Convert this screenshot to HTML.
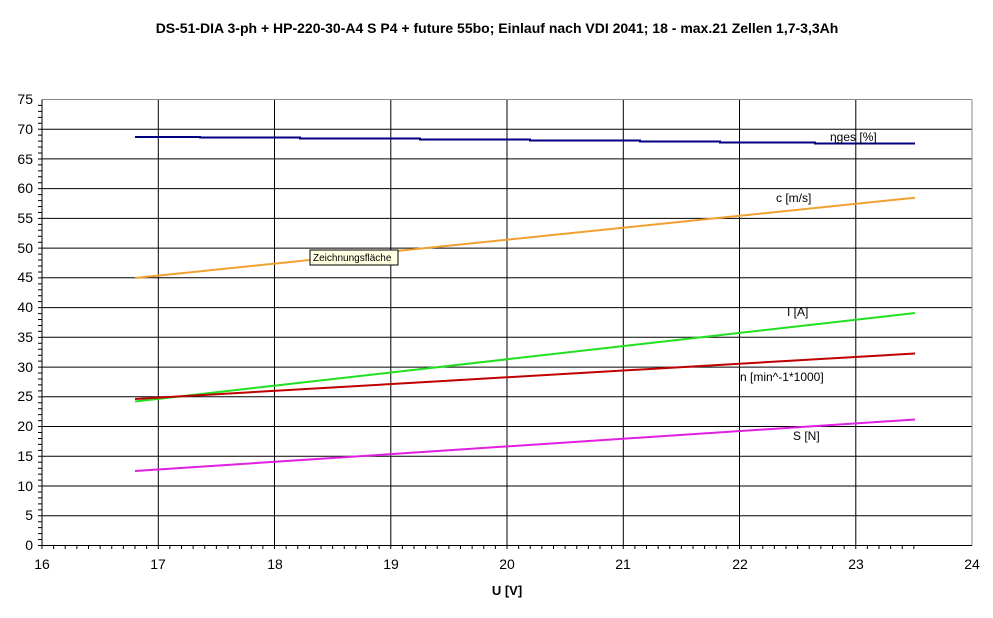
<!DOCTYPE html>
<html><head><meta charset="utf-8"><style>
body{margin:0;background:#fff;}
svg text{font-family:"Liberation Sans",Arial,sans-serif;}
</style></head><body>
<svg width="993" height="613" xmlns="http://www.w3.org/2000/svg">
<rect width="993" height="613" fill="#fff"/>
<text x="497" y="33" font-size="14" font-weight="bold" text-anchor="middle">DS-51-DIA 3-ph + HP-220-30-A4 S P4 + future 55bo; Einlauf nach VDI 2041; 18 - max.21 Zellen 1,7-3,3Ah</text>
<g stroke="#000" stroke-width="1">
<line x1="42" x2="972" y1="129.2" y2="129.2"/><line x1="42" x2="972" y1="158.9" y2="158.9"/>
<line x1="42" x2="972" y1="188.6" y2="188.6"/><line x1="42" x2="972" y1="218.4" y2="218.4"/>
<line x1="42" x2="972" y1="248.1" y2="248.1"/><line x1="42" x2="972" y1="277.8" y2="277.8"/>
<line x1="42" x2="972" y1="307.6" y2="307.6"/><line x1="42" x2="972" y1="337.3" y2="337.3"/>
<line x1="42" x2="972" y1="367.1" y2="367.1"/><line x1="42" x2="972" y1="396.8" y2="396.8"/>
<line x1="42" x2="972" y1="426.5" y2="426.5"/><line x1="42" x2="972" y1="456.3" y2="456.3"/>
<line x1="42" x2="972" y1="486" y2="486"/><line x1="42" x2="972" y1="515.7" y2="515.7"/>
<line y1="99.5" y2="545.5" x1="158.3" x2="158.3"/><line y1="99.5" y2="545.5" x1="274.5" x2="274.5"/>
<line y1="99.5" y2="545.5" x1="390.8" x2="390.8"/><line y1="99.5" y2="545.5" x1="507" x2="507"/>
<line y1="99.5" y2="545.5" x1="623.3" x2="623.3"/><line y1="99.5" y2="545.5" x1="739.5" x2="739.5"/>
<line y1="99.5" y2="545.5" x1="855.8" x2="855.8"/>
</g>
<line x1="42" x2="972" y1="99.5" y2="99.5" stroke="#888"/>
<line x1="972" x2="972" y1="99.5" y2="545.5" stroke="#888"/>
<line x1="42" x2="42" y1="99.5" y2="545.5" stroke="#000"/>
<line x1="42" x2="972" y1="545.5" y2="545.5" stroke="#000"/>
<path stroke="#000" fill="none" d="M38 545.5h4m-4 -5.947h4m-4 -5.947h4m-4 -5.947h4m-4 -5.947h4m-4 -5.947h4m-4 -5.947h4m-4 -5.947h4m-4 -5.947h4m-4 -5.947h4m-4 -5.947h4m-4 -5.947h4m-4 -5.947h4m-4 -5.947h4m-4 -5.947h4m-4 -5.947h4m-4 -5.947h4m-4 -5.947h4m-4 -5.947h4m-4 -5.947h4m-4 -5.947h4m-4 -5.947h4m-4 -5.947h4m-4 -5.947h4m-4 -5.947h4m-4 -5.947h4m-4 -5.947h4m-4 -5.947h4m-4 -5.947h4m-4 -5.947h4m-4 -5.947h4m-4 -5.947h4m-4 -5.947h4m-4 -5.947h4m-4 -5.947h4m-4 -5.947h4m-4 -5.947h4m-4 -5.947h4m-4 -5.947h4m-4 -5.947h4m-4 -5.947h4m-4 -5.947h4m-4 -5.947h4m-4 -5.947h4m-4 -5.947h4m-4 -5.947h4m-4 -5.947h4m-4 -5.947h4m-4 -5.947h4m-4 -5.947h4m-4 -5.947h4m-4 -5.947h4m-4 -5.947h4m-4 -5.947h4m-4 -5.947h4m-4 -5.947h4m-4 -5.947h4m-4 -5.947h4m-4 -5.947h4m-4 -5.947h4m-4 -5.947h4m-4 -5.947h4m-4 -5.947h4m-4 -5.947h4m-4 -5.947h4m-4 -5.947h4m-4 -5.947h4m-4 -5.947h4m-4 -5.947h4m-4 -5.947h4m-4 -5.947h4m-4 -5.947h4m-4 -5.947h4m-4 -5.947h4m-4 -5.947h4
M42 545.5v3.5m11.625 -3.5v3.5m11.625 -3.5v3.5m11.625 -3.5v3.5m11.625 -3.5v3.5m11.625 -3.5v3.5m11.625 -3.5v3.5m11.625 -3.5v3.5m11.625 -3.5v3.5m11.625 -3.5v3.5m11.625 -3.5v3.5m11.625 -3.5v3.5m11.625 -3.5v3.5m11.625 -3.5v3.5m11.625 -3.5v3.5m11.625 -3.5v3.5m11.625 -3.5v3.5m11.625 -3.5v3.5m11.625 -3.5v3.5m11.625 -3.5v3.5m11.625 -3.5v3.5m11.625 -3.5v3.5m11.625 -3.5v3.5m11.625 -3.5v3.5m11.625 -3.5v3.5m11.625 -3.5v3.5m11.625 -3.5v3.5m11.625 -3.5v3.5m11.625 -3.5v3.5m11.625 -3.5v3.5m11.625 -3.5v3.5m11.625 -3.5v3.5m11.625 -3.5v3.5m11.625 -3.5v3.5m11.625 -3.5v3.5m11.625 -3.5v3.5m11.625 -3.5v3.5m11.625 -3.5v3.5m11.625 -3.5v3.5m11.625 -3.5v3.5m11.625 -3.5v3.5m11.625 -3.5v3.5m11.625 -3.5v3.5m11.625 -3.5v3.5m11.625 -3.5v3.5m11.625 -3.5v3.5m11.625 -3.5v3.5m11.625 -3.5v3.5m11.625 -3.5v3.5m11.625 -3.5v3.5m11.625 -3.5v3.5m11.625 -3.5v3.5m11.625 -3.5v3.5m11.625 -3.5v3.5m11.625 -3.5v3.5m11.625 -3.5v3.5m11.625 -3.5v3.5m11.625 -3.5v3.5m11.625 -3.5v3.5m11.625 -3.5v3.5m11.625 -3.5v3.5m11.625 -3.5v3.5m11.625 -3.5v3.5m11.625 -3.5v3.5m11.625 -3.5v3.5m11.625 -3.5v3.5m11.625 -3.5v3.5m11.625 -3.5v3.5m11.625 -3.5v3.5m11.625 -3.5v3.5m11.625 -3.5v3.5m11.625 -3.5v3.5m11.625 -3.5v3.5m11.625 -3.5v3.5m11.625 -3.5v3.5m11.625 -3.5v3.5"/>
<g font-size="14" fill="#000" text-anchor="end">
<text x="33" y="104">75</text><text x="33" y="134">70</text><text x="33" y="164">65</text>
<text x="33" y="193">60</text><text x="33" y="223">55</text><text x="33" y="253">50</text>
<text x="33" y="282">45</text><text x="33" y="312">40</text><text x="33" y="342">35</text>
<text x="33" y="372">30</text><text x="33" y="401">25</text><text x="33" y="431">20</text>
<text x="33" y="461">15</text><text x="33" y="491">10</text><text x="33" y="520">5</text>
<text x="33" y="550">0</text>
</g>
<g font-size="14" fill="#000" text-anchor="middle">
<text x="42" y="569">16</text><text x="158" y="569">17</text><text x="275" y="569">18</text>
<text x="391" y="569">19</text><text x="507" y="569">20</text><text x="623" y="569">21</text>
<text x="740" y="569">22</text><text x="856" y="569">23</text><text x="972" y="569">24</text>
</g>
<text x="507" y="595" font-size="13" font-weight="bold" text-anchor="middle">U [V]</text>
<g fill="none" stroke-width="2">
<polyline stroke="#000080" points="135,137 200,137 200,137.5 300,137.5 300,138.5 420,138.5 420,139.5 530,139.5 530,140.5 640,140.5 640,141.5 720,141.5 720,142.5 815,142.5 815,143.5 915,143.5"/>
<line stroke="#f0a030" x1="135" y1="278" x2="915" y2="197.7"/>
<line stroke="#20e020" x1="135" y1="401.5" x2="915" y2="313"/>
<line stroke="#c00000" x1="135" y1="399" x2="915" y2="353.5"/>
<line stroke="#e020e0" x1="135" y1="471" x2="915" y2="419.5"/>
</g>
<g font-size="12" fill="#000">
<text x="830" y="141">ηges [%]</text>
<text x="776" y="202">c [m/s]</text>
<text x="787" y="316">I [A]</text>
<text x="740" y="381">n [min^-1*1000]</text>
<text x="793" y="440">S [N]</text>
</g>
<rect x="310" y="250" width="88" height="15" fill="#ffffe1" stroke="#000"/>
<text x="313" y="261" font-size="10">Zeichnungsfläche</text>
</svg>
</body></html>
